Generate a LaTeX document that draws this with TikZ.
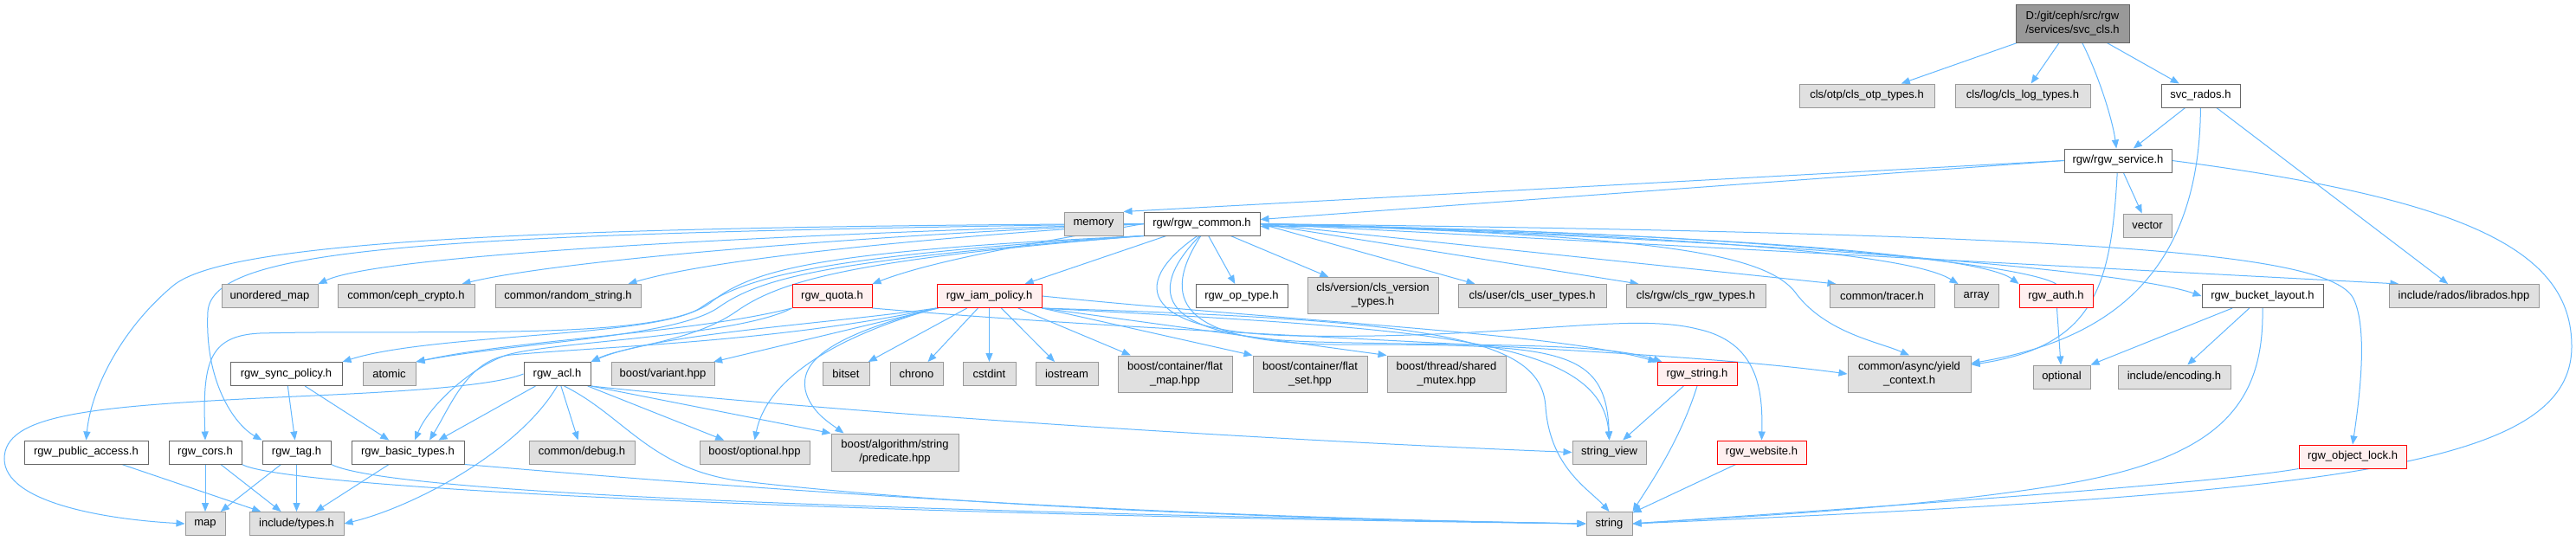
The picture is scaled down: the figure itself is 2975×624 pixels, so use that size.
\documentclass[tikz,border=0pt]{standalone}
\usepackage{fontspec}
\setmainfont{Liberation Sans}
\usetikzlibrary{arrows.meta,backgrounds}

\definecolor{edgeblue}{HTML}{63B8FF}
\definecolor{sysfill}{HTML}{E0E0E0}
\definecolor{sysdraw}{HTML}{999999}
\definecolor{hdrdraw}{HTML}{666666}
\definecolor{truncfill}{HTML}{FFF0F0}
\definecolor{truncdraw}{HTML}{FF0000}
\definecolor{rootfill}{HTML}{999999}

\tikzset{
  % Header of the project: white box, dark grey border
  hdr/.style={draw=hdrdraw, fill=white, rectangle, minimum height=27pt,
              align=center, line width=1pt, inner sep=1pt,
              font=\fontsize{13}{16}\selectfont},
  % System / external include: grey box
  sysinc/.style={hdr, draw=sysdraw, fill=sysfill},
  % Truncated header: red border
  trunc/.style={hdr, draw=truncdraw, fill=truncfill},
  % The documented file itself
  rootbox/.style={hdr, fill=rootfill, minimum height=44pt},
  % Two-line label
  tallbox/.style={minimum height=42pt},
  % Include arrow
  incarr/.style={-{Triangle[length=10pt,width=8pt]}, draw=edgeblue, line width=1pt}
}

\begin{document}
\begin{tikzpicture}[x=1pt,y=-1pt]
\useasboundingbox (0,0) rectangle (2975,624);

% ============== TOP: the file, its direct includes ==============
\node[rootbox, minimum width=131pt] (svcCls) at (2393.5,27) {D:/git/ceph/src/rgw\\/services/svc\_cls.h};
\node[sysinc, minimum width=156pt] (clsOtp) at (2156,110.5) {cls/otp/cls\_otp\_types.h};
\node[sysinc, minimum width=156pt] (clsLog) at (2336,110.5) {cls/log/cls\_log\_types.h};
\node[hdr, minimum width=91pt] (svcRados) at (2541.5,110.5) {svc\_rados.h};
\node[hdr, minimum width=124pt] (rgwService) at (2446,185.5) {rgw/rgw\_service.h};
\node[sysinc, minimum width=68pt] (memory) at (1263,258.5) {memory};
\node[hdr, minimum width=134pt] (rgwCommon) at (1388,258.5) {rgw/rgw\_common.h};
\node[sysinc, minimum width=56pt] (vector) at (2480,260.5) {vector};

% ============== ROW A ==============
\node[sysinc, minimum width=111pt] (unorderedMap) at (311.5,342) {unordered\_map};
\node[sysinc, minimum width=158pt] (cephCrypto) at (469,342) {common/ceph\_crypto.h};
\node[sysinc, minimum width=168pt] (randomString) at (656,342) {common/random\_string.h};
\node[trunc, minimum width=92pt] (rgwQuota) at (961,342) {rgw\_quota.h};
\node[trunc, minimum width=121pt] (rgwIamPolicy) at (1142.5,342) {rgw\_iam\_policy.h};
\node[hdr, minimum width=106pt] (rgwOpType) at (1434,342) {rgw\_op\_type.h};
\node[sysinc, tallbox, minimum width=151pt] (clsVersion) at (1585.5,341.5) {cls/version/cls\_version\\\_types.h};
\node[sysinc, minimum width=171pt] (clsUser) at (1769.5,342) {cls/user/cls\_user\_types.h};
\node[sysinc, minimum width=161pt] (clsRgw) at (1958.5,342) {cls/rgw/cls\_rgw\_types.h};
\node[sysinc, minimum width=121pt] (tracer) at (2173.5,342) {common/tracer.h};
\node[sysinc, minimum width=51pt] (array) at (2282.5,342) {array};
\node[trunc, minimum width=85pt] (rgwAuth) at (2374.5,342) {rgw\_auth.h};
\node[hdr, minimum width=140pt] (rgwBucketLayout) at (2613,342) {rgw\_bucket\_layout.h};
\node[sysinc, minimum width=173pt] (librados) at (2845.5,342) {include/rados/librados.hpp};

% ============== ROW B ==============
\node[hdr, minimum width=129pt] (rgwSyncPolicy) at (330.5,432) {rgw\_sync\_policy.h};
\node[sysinc, minimum width=61pt] (atomic) at (449.5,432) {atomic};
\node[hdr, minimum width=77pt] (rgwAcl) at (643.5,432) {rgw\_acl.h};
\node[sysinc, minimum width=119pt] (boostVariant) at (765.5,432) {boost/variant.hpp};
\node[sysinc, minimum width=54pt] (bitset) at (977,432) {bitset};
\node[sysinc, minimum width=61pt] (chrono) at (1058.5,432) {chrono};
\node[sysinc, minimum width=61pt] (cstdint) at (1142.5,432) {cstdint};
\node[sysinc, minimum width=72pt] (iostream) at (1232,432) {iostream};
\node[sysinc, tallbox, minimum width=132pt] (flatMap) at (1357,432) {boost/container/flat\\\_map.hpp};
\node[sysinc, tallbox, minimum width=132pt] (flatSet) at (1513,432) {boost/container/flat\\\_set.hpp};
\node[sysinc, tallbox, minimum width=137pt] (sharedMutex) at (1670.5,432) {boost/thread/shared\\\_mutex.hpp};
\node[trunc, minimum width=92pt] (rgwString) at (1960,432) {rgw\_string.h};
\node[sysinc, tallbox, minimum width=142pt] (yieldCtx) at (2205,432) {common/async/yield\\\_context.h};
\node[sysinc, minimum width=66pt] (optional) at (2381,435.5) {optional};
\node[sysinc, minimum width=130pt] (encoding) at (2511,435.5) {include/encoding.h};

% ============== ROW C ==============
\node[hdr, minimum width=143pt] (rgwPublicAccess) at (99.5,522.5) {rgw\_public\_access.h};
\node[hdr, minimum width=84pt] (rgwCors) at (237,522.5) {rgw\_cors.h};
\node[hdr, minimum width=79pt] (rgwTag) at (342.5,522.5) {rgw\_tag.h};
\node[hdr, minimum width=130pt] (rgwBasicTypes) at (471,522.5) {rgw\_basic\_types.h};
\node[sysinc, minimum width=122pt] (commonDebug) at (672,522.5) {common/debug.h};
\node[sysinc, minimum width=127pt] (boostOptional) at (871.5,522.5) {boost/optional.hpp};
\node[sysinc, minimum width=147pt, minimum height=43pt] (predicate) at (1033.5,522.5) {boost/algorithm/string\\/predicate.hpp};
\node[sysinc, minimum width=85pt] (stringView) at (1858.5,522.5) {string\_view};
\node[trunc, minimum width=103pt] (rgwWebsite) at (2034.5,522.5) {rgw\_website.h};
\node[trunc, minimum width=124pt] (rgwObjectLock) at (2717,527.5) {rgw\_object\_lock.h};

% ============== ROW D ==============
\node[sysinc, minimum width=46pt] (map) at (237,605) {map};
\node[sysinc, minimum width=109pt] (includeTypes) at (342.5,605) {include/types.h};
\node[sysinc, minimum width=53pt] (string) at (1858.5,605) {string};

\begin{scope}[on background layer]
\fill[white] (0,0) rectangle (2975,624);

% ============== svc_cls.h / svc_rados.h / rgw_service.h ==============
\draw[incarr] (svcCls) -- (clsOtp);
\draw[incarr] (svcCls) -- (clsLog);
\draw[incarr] (svcCls) .. controls (2425,90) and (2440,140) .. (rgwService);
\draw[incarr] (svcCls) -- (svcRados);
\draw[incarr] (svcRados) -- (rgwService);
\draw[incarr] (svcRados) -- (librados);
\draw[incarr] (svcRados) .. controls (2540,330) and (2420,395) .. (yieldCtx);
\draw[incarr] (rgwService.west) -- (memory.north east);
\draw[incarr] (rgwService.west) -- ([yshift=5pt]rgwCommon.east);
\draw[incarr] (rgwService) -- (vector);
\draw[incarr] (rgwService) .. controls (2438,330) and (2420,400) .. (yieldCtx);
\draw[incarr] (rgwService.east) .. controls (2850,230) and (2970,290) .. (2970,400)
  .. controls (2970,540) and (2700,570) .. (string.east);

% ============== rgw_common.h, to the left ==============
\draw[incarr] (rgwCommon.west) .. controls (1000,268) and (450,290) .. (unorderedMap.north east);
\draw[incarr] (rgwCommon.west) .. controls (1000,272) and (650,300) .. ([xshift=-15pt]cephCrypto.north east);
\draw[incarr] (rgwCommon.west) .. controls (1050,276) and (820,300) .. ([xshift=-15pt]randomString.north east);
\draw[incarr] (rgwCommon.west) .. controls (1200,280) and (1080,300) .. (rgwQuota.north east);
\draw[incarr] (rgwCommon) -- (rgwIamPolicy);
\draw[incarr] (rgwCommon.west) .. controls (600,262) and (260,280) .. (200,330)
  .. controls (140,380) and (105,450) .. (rgwPublicAccess.north);
\draw[incarr] (rgwCommon.west) .. controls (500,270) and (245,285) .. (240,360)
  .. controls (236,440) and (270,490) .. (rgwTag.north west);
\draw[incarr] (rgwCommon.south west) .. controls (950,290) and (870,310) .. (820,350)
  .. controls (760,395) and (500,380) .. (300,385) .. controls (240,388) and (234,420) .. (rgwCors.north);
\draw[incarr] (rgwCommon.south west) .. controls (950,295) and (860,320) .. (810,355)
  .. controls (760,390) and (500,385) .. (rgwSyncPolicy.north east);
\draw[incarr] (rgwCommon.south west) .. controls (960,300) and (880,320) .. (830,355)
  .. controls (780,390) and (600,395) .. (atomic.north east);
\draw[incarr] (rgwCommon.south west) .. controls (980,300) and (900,325) .. (850,360)
  .. controls (800,395) and (720,400) .. (rgwAcl.north east);

% ============== rgw_common.h, down and to the right ==============
\draw[incarr] (rgwCommon) -- (rgwOpType);
\draw[incarr] (rgwCommon) -- (clsVersion);
\draw[incarr] (rgwCommon.east) -- ([xshift=20pt]clsUser.north west);
\draw[incarr] (rgwCommon.east) -- ([xshift=15pt]clsRgw.north west);
\draw[incarr] (rgwCommon.east) -- ([xshift=8pt]tracer.north west);
\draw[incarr] (rgwCommon.east) .. controls (1900,270) and (2200,290) .. ([xshift=5pt]array.north west);
\draw[incarr] (rgwCommon.east) .. controls (1900,268) and (2280,290) .. (rgwAuth.north west);
\draw[incarr] (rgwCommon.east) .. controls (2000,275) and (2450,310) .. (rgwBucketLayout.west);
\draw[incarr] (rgwCommon.east) -- ([xshift=12pt]librados.north west);
\draw[incarr] (rgwCommon.east) .. controls (2400,270) and (2690,290) .. (2718,345)
  .. controls (2735,380) and (2725,460) .. (rgwObjectLock.north);
\draw[incarr] (rgwCommon.east) .. controls (1900,272) and (2040,290) .. (2075,340)
  .. controls (2110,385) and (2170,395) .. (yieldCtx.north);
\draw[incarr] (rgwCommon.250) .. controls (1300,330) and (1320,385) .. (1500,388)
  .. controls (1750,392) and (1880,360) .. (1960,380) .. controls (2030,395) and (2036,450) .. (rgwWebsite.north);
\draw[incarr] (rgwCommon.260) .. controls (1320,340) and (1340,390) .. (1520,395)
  .. controls (1700,400) and (1850,395) .. ([xshift=6pt]rgwString.north west);
\draw[incarr] (rgwCommon.265) .. controls (1340,345) and (1360,395) .. (1540,398)
  .. controls (1800,398) and (1855,400) .. (stringView.north);

% rgw_auth.h back to rgw_common.h
\draw[incarr] (rgwAuth.north) .. controls (2330,300) and (1900,262) .. ([yshift=-3pt]rgwCommon.east);
\draw[incarr] (rgwAuth) -- (optional);

% ============== rgw_quota.h ==============
\draw[incarr] (rgwQuota.south west) .. controls (800,385) and (600,392) .. (atomic.north east);
\draw[incarr] (rgwQuota.south west) .. controls (850,390) and (620,395) .. (580,412)
  .. controls (540,428) and (495,470) .. ([xshift=8pt]rgwBasicTypes.north);
\draw[incarr] (rgwQuota.south east) .. controls (1400,390) and (1900,400) .. (yieldCtx.west);

% ============== rgw_iam_policy.h ==============
\draw[incarr] (rgwIamPolicy.south west) .. controls (950,375) and (760,385) .. (rgwAcl.north east);
\draw[incarr] (rgwIamPolicy) -- (boostVariant);
\draw[incarr] (rgwIamPolicy) -- (bitset);
\draw[incarr] (rgwIamPolicy) -- (chrono);
\draw[incarr] (rgwIamPolicy) -- (cstdint);
\draw[incarr] (rgwIamPolicy) -- (iostream);
\draw[incarr] (rgwIamPolicy) -- (flatMap);
\draw[incarr] (rgwIamPolicy.south east) -- (flatSet.north west);
\draw[incarr] (rgwIamPolicy.south east) -- (sharedMutex.north west);
\draw[incarr] (rgwIamPolicy.east) .. controls (1500,372) and (1800,385) .. (rgwString.north west);
\draw[incarr] (rgwIamPolicy.south east) .. controls (1650,380) and (1850,390) .. (stringView.north);
\draw[incarr] (rgwIamPolicy.south east) .. controls (1660,370) and (1780,390) .. (1785,470)
  .. controls (1790,540) and (1835,565) .. (string.north);
\draw[incarr] (rgwIamPolicy.south west) .. controls (960,390) and (885,440) .. (boostOptional.north);
\draw[incarr] (rgwIamPolicy.south west) .. controls (950,390) and (925,420) .. (930,450)
  .. controls (935,475) and (960,490) .. ([xshift=15pt]predicate.north west);
\draw[incarr] (rgwIamPolicy.south west) .. controls (900,395) and (700,400) .. (590,410)
  .. controls (540,415) and (520,470) .. ([xshift=25pt]rgwBasicTypes.north);

% ============== rgw_acl.h ==============
\draw[incarr] (rgwAcl.west) .. controls (560,450) and (400,455) .. (300,460)
  .. controls (100,470) and (5,480) .. (5,530) .. controls (5,580) and (120,600) .. (map.west);
\draw[incarr] (rgwAcl.south) .. controls (600,520) and (480,585) .. (includeTypes.east);
\draw[incarr] (rgwAcl) -- ([xshift=-30pt]rgwBasicTypes.north east);
\draw[incarr] (rgwAcl) -- (commonDebug);
\draw[incarr] (rgwAcl) -- (boostOptional);
\draw[incarr] (rgwAcl.south east) -- (predicate.north west);
\draw[incarr] (rgwAcl.south east) .. controls (1000,480) and (1500,510) .. (stringView.west);
\draw[incarr] (rgwAcl.300) .. controls (720,480) and (750,540) .. (850,555)
  .. controls (1100,585) and (1500,600) .. (string.west);

% ============== lower headers ==============
\draw[incarr] (rgwSyncPolicy) -- (rgwTag);
\draw[incarr] (rgwSyncPolicy) -- (rgwBasicTypes);
\draw[incarr] (rgwTag) -- (map);
\draw[incarr] (rgwTag) -- (includeTypes);
\draw[incarr] (rgwTag.south east) .. controls (450,570) and (1000,590) .. (string.west);
\draw[incarr] (rgwCors) -- (map);
\draw[incarr] (rgwCors) -- (includeTypes);
\draw[incarr] (rgwCors.south east) .. controls (330,565) and (1000,595) .. (string.west);
\draw[incarr] (rgwPublicAccess) -- (includeTypes);
\draw[incarr] (rgwBasicTypes) -- (includeTypes);
\draw[incarr] (rgwBasicTypes.south east) .. controls (700,550) and (1200,595) .. (string.west);
\draw[incarr] (rgwString) -- (stringView);
\draw[incarr] (rgwString.south) .. controls (1940,510) and (1905,560) .. (string.north east);
\draw[incarr] (rgwWebsite) -- (string);
\draw[incarr] (rgwObjectLock.south west) .. controls (2550,560) and (2100,590) .. (string.east);
\draw[incarr] (rgwBucketLayout.south) .. controls (2615,470) and (2560,530) .. (2380,560)
  .. controls (2200,590) and (1950,600) .. (string.east);
\draw[incarr] (rgwBucketLayout) -- (optional.north east);
\draw[incarr] (rgwBucketLayout) -- (encoding);
\end{scope}

\end{tikzpicture}
\end{document}
